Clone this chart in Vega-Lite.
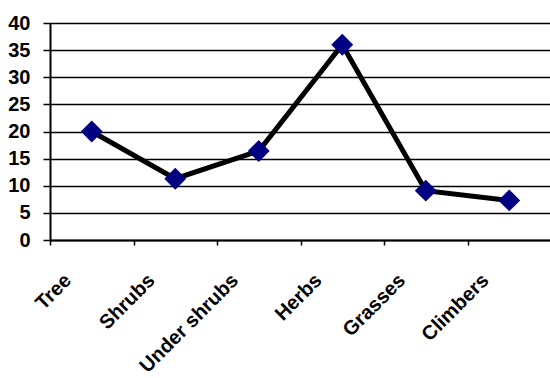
{
  "$schema": "https://vega.github.io/schema/vega-lite/v6.json",
  "autosize": {"type": "none"},
  "padding": {"left": 50, "top": 23, "right": 0, "bottom": 138},
  "width": 501,
  "height": 217,
  "background": "white",
  "config": {
    "view": {"stroke": null},
    "font": "Liberation Sans",
    "axis": {
      "labelFont": "Liberation Sans",
      "labelFontWeight": "bold",
      "labelColor": "black",
      "domainColor": "black",
      "tickColor": "black",
      "gridColor": "black"
    }
  },
  "data": {
    "values": [
      {"habit": "Tree", "count": 20},
      {"habit": "Shrubs", "count": 11.3},
      {"habit": "Under shrubs", "count": 16.4},
      {"habit": "Herbs", "count": 36},
      {"habit": "Grasses", "count": 9.1},
      {"habit": "Climbers", "count": 7.3}
    ]
  },
  "encoding": {
    "x": {
      "field": "habit",
      "type": "nominal",
      "sort": null,
      "scale": {"paddingInner": 0, "paddingOuter": 0},
      "axis": {
        "title": null,
        "labelAngle": -45,
        "labelAlign": "right",
        "labelBaseline": "middle",
        "labelFontSize": 20,
        "labelPadding": 32,
        "labelOffset": -24,
        "tickBand": "extent",
        "tickSize": 5,
        "tickWidth": 1.5,
        "domainWidth": 2,
        "grid": false
      }
    },
    "y": {
      "field": "count",
      "type": "quantitative",
      "scale": {"domain": [0, 40], "nice": false},
      "axis": {
        "title": null,
        "values": [0, 5, 10, 15, 20, 25, 30, 35, 40],
        "labelFontSize": 20,
        "labelPadding": 13,
        "tickSize": 7,
        "tickWidth": 1.5,
        "domainWidth": 2,
        "grid": true,
        "gridWidth": 1.5,
        "gridOpacity": 1
      }
    }
  },
  "layer": [
    {"mark": {"type": "line", "color": "black", "strokeWidth": 5}},
    {"mark": {"type": "point", "shape": "diamond", "filled": true, "color": "#000080", "opacity": 1, "size": 480}}
  ]
}
